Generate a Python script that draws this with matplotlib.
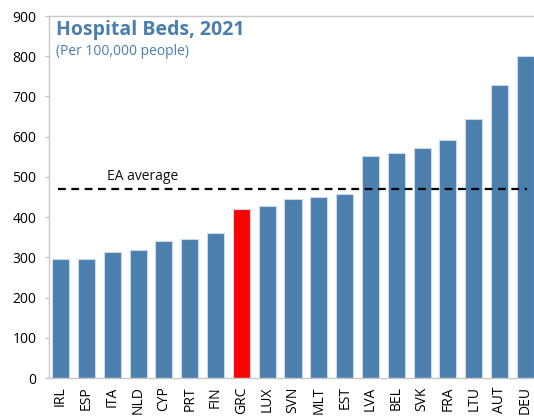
import matplotlib
matplotlib.use("Agg")
import matplotlib.pyplot as plt
import numpy as np

countries = ["IRL", "ESP", "ITA", "NLD", "CYP", "PRT", "FIN", "GRC", "LUX", "SVN",
             "MLT", "EST", "LVA", "BEL", "SVK", "FRA", "LTU", "AUT", "DEU"]
beds = [297, 297, 314, 318, 341, 345, 361, 420, 427, 444,
        450, 458, 551, 559, 571, 592, 645, 728, 801]
ea_average = 470

plt.rcParams["font.family"] = ["Open Sans", "DejaVu Sans"]

blue = "#4A7FAE"
colors = ["#FF0000" if c == "GRC" else blue for c in countries]

fig = plt.figure(figsize=(5.34, 4.16), dpi=100)
ax = fig.add_axes([49 / 534, 38 / 416, 488 / 534, 362 / 416])

x = np.arange(len(countries))
ax.bar(x, beds, width=0.66, color=colors, edgecolor="#C9D9E8", linewidth=0.8, zorder=2)
ax.plot([-0.1, 18.05], [ea_average, ea_average], color="black", linestyle=(0, (3.5, 2.5)),
        linewidth=1.6, zorder=3)
ax.text(1.8, ea_average + 12, "EA average", fontsize=10, color="#111111", va="bottom")

ax.set_xlim(-0.45, 18.45)
ax.set_ylim(0, 900)
ax.set_yticks(range(0, 901, 100))
ax.set_xticks(x)
ax.set_xticklabels(countries, rotation=90, fontsize=10)
ax.tick_params(axis="y", labelsize=10, length=3, color="#BBBBBB", pad=6)
ax.tick_params(axis="x", length=0, pad=6)
for s in ax.spines.values():
    s.set_color("#C8C8C8")
    s.set_linewidth(1.0)

ax.text(0.014, 0.99, "Hospital Beds, 2021", transform=ax.transAxes, fontsize=14,
        fontweight="bold", color=blue, va="top")
ax.text(0.014, 0.922, "(Per 100,000 people)", transform=ax.transAxes, fontsize=10,
        color=blue, va="top")

fig.savefig("out.png", dpi=100)
